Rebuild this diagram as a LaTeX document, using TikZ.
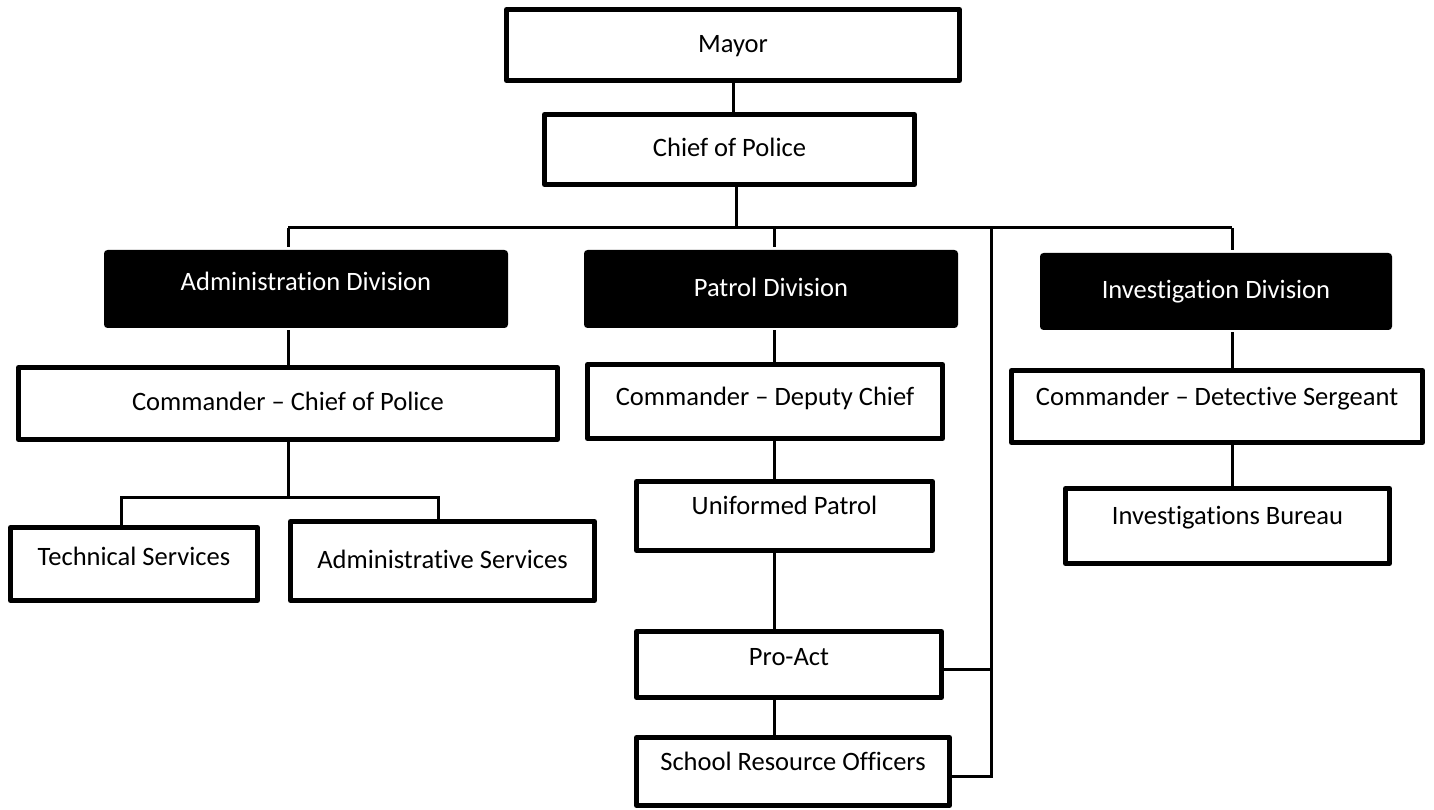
\documentclass[tikz,border=0pt]{standalone}
\usepackage{fontspec}
\setmainfont{Carlito}[Ligatures={TeX,NoCommon}]
\begin{document}
\begin{tikzpicture}[
    box/.style={rectangle, draw, line width=0.1cm, line join=round, align=center,
        text height=0.42cm, text depth=0.13cm, inner sep=0pt,
        font=\fontsize{15.1pt}{18pt}\selectfont},
    division/.style={box, draw=none, fill=black, text=white, rounded corners=2pt},
    link/.style={line width=0.06cm}
]
\useasboundingbox (0,0) rectangle (28.68,-16.2);

% Top of the chart
\node[box, minimum width=9.06cm, minimum height=1.42cm] (mayor) at (14.66,-0.90) {Mayor};
\node[box, minimum width=7.40cm, minimum height=1.40cm] (chief) at (14.59,-2.99) {Chief of Police};

% Divisions
\node[division, minimum width=8.08cm, minimum height=1.56cm, text depth=0.37cm] (admdiv) at (6.12,-5.78) {Administration Division};
\node[division, minimum width=7.48cm, minimum height=1.56cm] (patdiv) at (15.42,-5.78) {Patrol Division};
\node[division, minimum width=7.04cm, minimum height=1.54cm] (invdiv) at (24.32,-5.83) {Investigation Division};

% Administration branch
\node[box, minimum width=10.78cm, minimum height=1.44cm] (cmdchief) at (5.76,-8.07) {Commander -- Chief of Police};
\node[box, minimum width=4.94cm, minimum height=1.46cm, text depth=0.37cm] (tech) at (2.68,-11.28) {Technical Services};
\node[box, minimum width=6.08cm, minimum height=1.58cm] (admsvc) at (8.85,-11.22) {Administrative Services};

% Patrol branch
\node[box, minimum width=7.10cm, minimum height=1.48cm, text depth=0.27cm] (cmddep) at (15.30,-8.03) {Commander -- Deputy Chief};
\node[box, minimum width=5.92cm, minimum height=1.38cm, text depth=0.47cm] (uniform) at (15.69,-10.32) {Uniformed Patrol};
\node[box, minimum width=6.10cm, minimum height=1.32cm, text depth=0.39cm] (proact) at (15.78,-13.29) {Pro-Act};
\node[box, minimum width=6.26cm, minimum height=1.36cm, text depth=0.47cm] (sro) at (15.86,-15.43) {School Resource Officers};

% Investigation branch
\node[box, minimum width=8.22cm, minimum height=1.44cm, text depth=0.47cm] (cmddet) at (24.34,-8.13) {Commander -- Detective Sergeant};
\node[box, minimum width=6.48cm, minimum height=1.50cm, text depth=0.49cm] (invbur) at (24.55,-10.52) {Investigations Bureau};

% Junctions
\coordinate (busL) at (5.76,-4.56);
\coordinate (busR) at (24.64,-4.56);
\coordinate (jChief) at (14.72,-4.56);
\coordinate (jPat) at (15.49,-4.56);
\coordinate (jSide) at (19.82,-4.56);
\coordinate (subL) at (2.42,-9.94);
\coordinate (subR) at (8.76,-9.94);

% Connectors
\draw[link] (mayor.south) -- (mayor.south |- chief.north);
\draw[link] (jChief) -- (jChief |- chief.south);
\draw[link] (busL) -- (busR);
\draw[link] (busL) -- (busL |- admdiv.north);
\draw[link] (jPat) -- (jPat |- patdiv.north);
\draw[link] (busR) -- (busR |- invdiv.north);

\draw[link] (cmdchief.north) -- (cmdchief.north |- admdiv.south);
\draw[link] (cmdchief.south) -- (cmdchief.south |- subL);
\draw[link] (subL |- tech.north) -- (subL) -- (subR) -- (subR |- admsvc.north);

\draw[link] (jPat |- patdiv.south) -- (jPat |- cmddep.north);
\draw[link] (jPat |- cmddep.south) -- (jPat |- uniform.north);
\draw[link] (jPat |- uniform.south) -- (jPat |- proact.north);
\draw[link] (jPat |- proact.south) -- (jPat |- sro.north);

% Side line from the bus to Pro-Act and School Resource Officers
\draw[link] ([yshift=-0.09cm]proact.east) -- ([yshift=-0.09cm]jSide |- proact.east);
\draw[link] ([yshift=-0.1cm]sro.east) -- ([yshift=-0.1cm]jSide |- sro.east) -- (jSide);

\draw[link] (busR |- invdiv.south) -- (busR |- cmddet.north);
\draw[link] (busR |- cmddet.south) -- (busR |- invbur.north);

\end{tikzpicture}
\end{document}
